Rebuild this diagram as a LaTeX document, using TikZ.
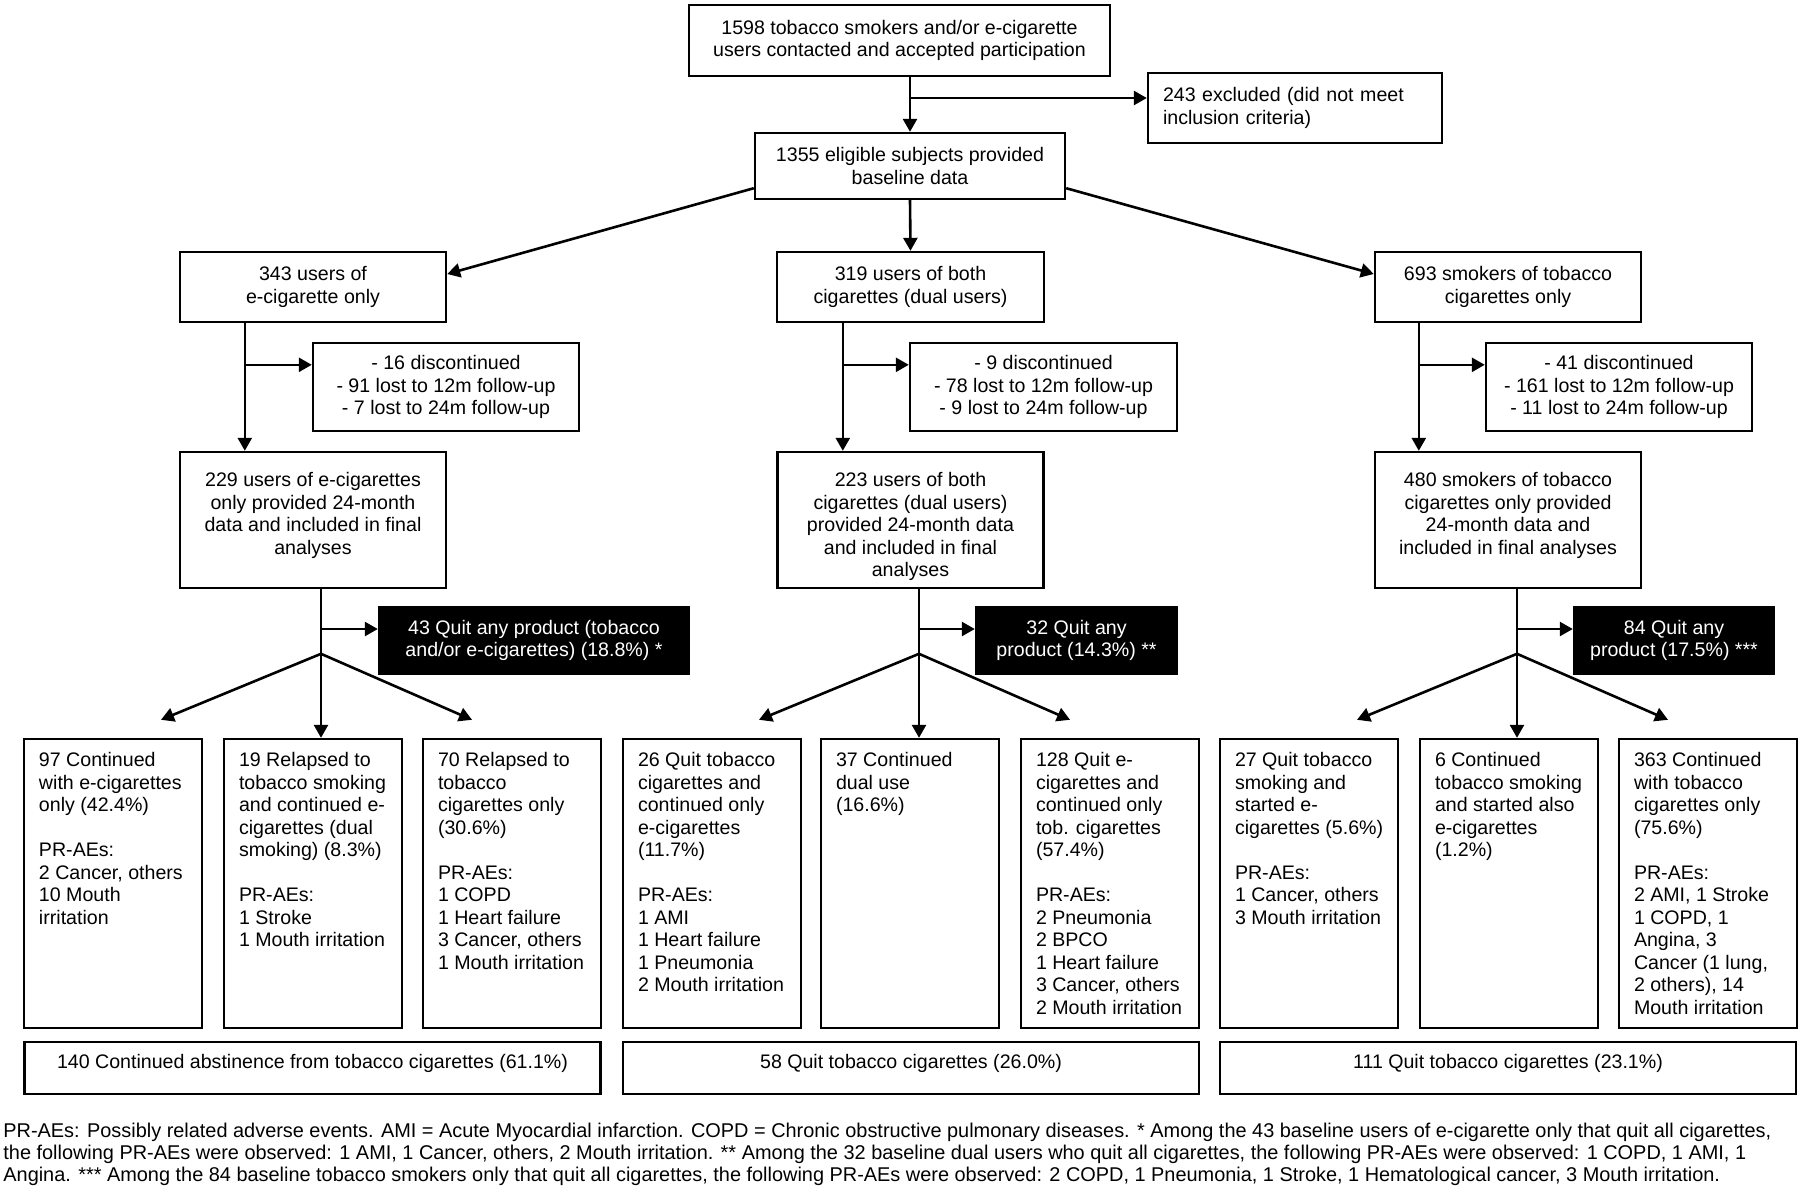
\documentclass[tikz,border=0pt]{standalone}
\usepackage{fontspec}
\setmainfont{Liberation Sans}
\usetikzlibrary{arrows.meta,calc}
\newcommand\fs{\fontsize{9.8}{11.25}\selectfont}
\newcommand\btext[1]{\parbox[c][144.5pt][t]{89pt}{\raggedright\leftskip=7.5pt\relax\vspace*{6pt}\strut #1\par}}
\newcommand\mtext[1]{\parbox[c][68pt][t]{133pt}{\centering\vspace*{9.6pt}\strut #1\par}}
\newcommand\stext[1]{\parbox[c][26pt][t]{288pt}{\centering\vspace*{5.6pt}\strut #1\par}}
\newlength\footlw
\begin{document}
\settowidth\footlw{\fontsize{10}{12}\selectfont PR-AEs: Possibly related adverse events. AMI = Acute Myocardial infarction. COPD = Chronic obstructive pulmonary diseases. * Among the 43 baseline users of e-cigarette only that quit all cigarettes,}%
\pgfmathsetmacro\fsz{10*884/\footlw}%
\begin{tikzpicture}[x=0.5pt,y=-0.5pt,
  box/.style={draw, line width=1.2pt, inner sep=0pt, font=\fs},
  cbox/.style={box, align=center},
  blk/.style={cbox, fill=black, text=white, minimum height=33.5pt},
  arr/.style={line width=1.3pt, -{Triangle[length=6.5pt,width=7pt]}}]
\useasboundingbox (0,0) rectangle (1800,1191);
\fill[white] (0,0) rectangle (1800,1191);

% top level
\node[cbox, minimum width=210.5pt, minimum height=35.5pt] (top) at (899.5,40.5) {1598 tobacco smokers and/or e-cigarette\\users contacted and accepted participation};
\node[box, text width=132pt, align=left, inner xsep=7.5pt, minimum height=35pt] (excl) at (1295,108) {243 excluded (did not meet\\inclusion criteria)};
\node[cbox, minimum width=155pt, minimum height=33pt] (n1355) at (910,166) {1355 eligible subjects provided\\baseline data};

% groups
\node[cbox, minimum width=133pt, minimum height=35pt] (n343) at (313,287) {343 users of\\e-cigarette only};
\node[cbox, minimum width=133.5pt, minimum height=35pt] (n319) at (910.5,287) {319 users of both\\cigarettes (dual users)};
\node[cbox, minimum width=133pt, minimum height=35pt] (n693) at (1508,287) {693 smokers of tobacco\\cigarettes only};

\node[cbox, minimum width=133pt, minimum height=44pt] (d1) at (446,387) {- 16 discontinued\\- 91 lost to 12m follow-up\\- 7 lost to 24m follow-up};
\node[cbox, minimum width=133.5pt, minimum height=44pt] (d2) at (1043.5,387) {- 9 discontinued\\- 78 lost to 12m follow-up\\- 9 lost to 24m follow-up};
\node[cbox, minimum width=133pt, minimum height=44pt] (d3) at (1619,387) {- 41 discontinued\\- 161 lost to 12m follow-up\\- 11 lost to 24m follow-up};

\node[box] (n229) at (313,520) {\mtext{229 users of e-cigarettes\\only provided 24-month\\data and included in final\\analyses}};
\node[box] (n223) at (910.5,520) {\mtext{223 users of both\\cigarettes (dual users)\\provided 24-month data\\and included in final\\analyses}};
\node[box] (n480) at (1508,520) {\mtext{480 smokers of tobacco\\cigarettes only provided\\24-month data and\\included in final analyses}};

\node[blk, minimum width=155pt] (q1) at (534,640.5) {43 Quit any product (tobacco\\and/or e-cigarettes) (18.8\%) *};
\node[blk, minimum width=100.5pt] (q2) at (1076.5,640.5) {32 Quit any\\product (14.3\%) **};
\node[blk, minimum width=100pt] (q3) at (1674,640.5) {84 Quit any\\product (17.5\%) ***};

% outcome boxes
\node[box] (b1) at (113,883.5) {\btext{97 Continued\\with e-cigarettes\\only (42.4\%)\\[11.25pt]PR-AEs:\\2 Cancer, others\\10 Mouth\\irritation}};
\node[box] (b2) at (313,883.5) {\btext{19 Relapsed to\\tobacco smoking\\and continued e-\\cigarettes (dual\\smoking) (8.3\%)\\[11.25pt]PR-AEs:\\1 Stroke\\1 Mouth irritation}};
\node[box] (b3) at (512,883.5) {\btext{70 Relapsed to\\tobacco\\cigarettes only\\(30.6\%)\\[11.25pt]PR-AEs:\\1 COPD\\1 Heart failure\\3 Cancer, others\\1 Mouth irritation}};
\node[box] (b4) at (712,883.5) {\btext{26 Quit tobacco\\cigarettes and\\continued only\\e-cigarettes\\(11.7\%)\\[11.25pt]PR-AEs:\\1 AMI\\1 Heart failure\\1 Pneumonia\\2 Mouth irritation}};
\node[box] (b5) at (910,883.5) {\btext{37 Continued\\dual use\\(16.6\%)}};
\node[box] (b6) at (1110,883.5) {\btext{128 Quit e-\\cigarettes and\\continued only\\tob. cigarettes\\(57.4\%)\\[11.25pt]PR-AEs:\\2 Pneumonia\\2 BPCO\\1 Heart failure\\3 Cancer, others\\2 Mouth irritation}};
\node[box] (b7) at (1309,883.5) {\btext{27 Quit tobacco\\smoking and\\started e-\\cigarettes (5.6\%)\\[11.25pt]PR-AEs:\\1 Cancer, others\\3 Mouth irritation}};
\node[box] (b8) at (1509,883.5) {\btext{6 Continued\\tobacco smoking\\and started also\\e-cigarettes\\(1.2\%)}};
\node[box] (b9) at (1708,883.5) {\btext{363 Continued\\with tobacco\\cigarettes only\\(75.6\%)\\[11.25pt]PR-AEs:\\2 AMI, 1 Stroke\\1 COPD, 1\\Angina, 3\\Cancer (1 lung,\\2 others), 14\\Mouth irritation}};

% summary boxes
\node[box] (s1) at (312.5,1068) {\stext{140 Continued abstinence from tobacco cigarettes (61.1\%)}};
\node[box] (s2) at (911,1068) {\stext{58 Quit tobacco cigarettes (26.0\%)}};
\node[box] (s3) at (1508,1068) {\stext{111 Quit tobacco cigarettes (23.1\%)}};

% connectors top
\draw[arr] (n1355.north |- top.south) -- (n1355.north);
\coordinate (j0) at (910,98);
\draw[arr] (j0) -- (j0 -| excl.west);
\draw[arr] ([yshift=6pt]n1355.south west) -- ([yshift=6.5pt]n343.east);
\draw[arr] ([yshift=6pt]n1355.south east) -- ([yshift=6.5pt]n693.west);
\draw[arr] (n1355.south) -- (n319.north);

% trunks to 24-month boxes
\coordinate (t1) at ($(n343.south west)+(66,0)$);
\coordinate (t2) at ($(n319.south west)+(67,0)$);
\coordinate (t3) at ($(n693.south west)+(45,0)$);
\draw[arr] (t1) -- (t1 |- n229.north);
\draw[arr] (t2) -- (t2 |- n223.north);
\draw[arr] (t3) -- (t3 |- n480.north);
\draw[arr] ($(t1 |- d1.north)+(0,23)$) -- ($(d1.north west)+(0,23)$);
\draw[arr] ($(t2 |- d2.north)+(0,23)$) -- ($(d2.north west)+(0,23)$);
\draw[arr] ($(t3 |- d3.north)+(0,23)$) -- ($(d3.north west)+(0,23)$);

% trunks to outcomes
\coordinate (u1) at ($(n229.south)+(8,0)$);
\coordinate (u2) at ($(n223.south)+(8.5,0)$);
\coordinate (u3) at ($(n480.south)+(9,0)$);
\draw[arr] (u1) -- (u1 |- b2.north);
\draw[arr] (u2) -- (u2 |- b5.north);
\draw[arr] (u3) -- (u3 |- b8.north);
\draw[arr] ($(u1 |- q1.west)+(0,-11.5)$) -- ($(q1.west)+(0,-11.5)$);
\draw[arr] ($(u2 |- q2.west)+(0,-11.5)$) -- ($(q2.west)+(0,-11.5)$);
\draw[arr] ($(u3 |- q3.west)+(0,-11.5)$) -- ($(q3.west)+(0,-11.5)$);
\foreach \i/\b in {1/b2,2/b5,3/b8}{
  \coordinate (k\i) at ($(u\i |- \b.north)+(0,-84)$);
  \coordinate (l\i) at ($(k\i)+(-160,66)$);
  \coordinate (r\i) at ($(k\i)+(151,66)$);
  \draw[arr] (k\i) -- (l\i);
  \draw[arr] (k\i) -- (r\i);
}

% footer
\node[anchor=base west, inner sep=0pt] (foot) at (3,1137) {\fontsize{\fsz}{11.1}\selectfont\parbox[t]{900pt}{PR-AEs: Possibly related adverse events. AMI = Acute Myocardial infarction. COPD = Chronic obstructive pulmonary diseases. * Among the 43 baseline users of e-cigarette only that quit all cigarettes,\\the following PR-AEs were observed: 1 AMI, 1 Cancer, others, 2 Mouth irritation. ** Among the 32 baseline dual users who quit all cigarettes, the following PR-AEs were observed: 1 COPD, 1 AMI, 1\\Angina. *** Among the 84 baseline tobacco smokers only that quit all cigarettes, the following PR-AEs were observed: 2 COPD, 1 Pneumonia, 1 Stroke, 1 Hematological cancer, 3 Mouth irritation.}};
\end{tikzpicture}
\end{document}
